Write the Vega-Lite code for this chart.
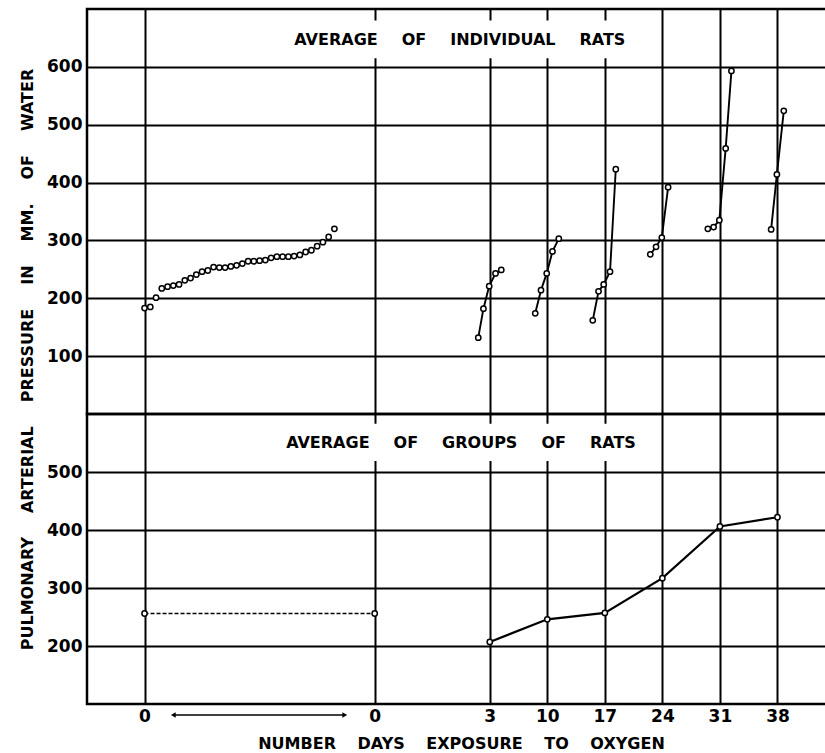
{
  "$schema": "https://vega.github.io/schema/vega-lite/v6.json",
  "background": "white",
  "padding": {"left": 18, "top": 7, "right": 0, "bottom": 0},
  "bounds": "flush",
  "spacing": 0,
  "config": {
    "font": "DejaVu Sans",
    "view": {"stroke": "black", "strokeWidth": 2.5},
    "axis": {
      "grid": true, "gridColor": "black", "gridOpacity": 1, "gridWidth": 2,
      "domain": false, "ticks": false,
      "labelFont": "DejaVu Sans", "labelFontSize": 17, "labelFontWeight": "bold", "labelColor": "black",
      "titleFont": "DejaVu Sans", "titleFontSize": 16, "titleFontWeight": "bold", "titleColor": "black"
    },
    "point": {"shape": "circle", "filled": true, "fill": "white", "stroke": "black", "strokeWidth": 1.5, "size": 28, "opacity": 1}
  },
  "datasets": {
    "baseline": [
      {"day": 0, "pos": 0.0, "p": 183}, {"day": 0, "pos": 0.1, "p": 185}, {"day": 0, "pos": 0.2, "p": 201},
      {"day": 0, "pos": 0.3, "p": 217}, {"day": 0, "pos": 0.4, "p": 220}, {"day": 0, "pos": 0.5, "p": 222},
      {"day": 0, "pos": 0.6, "p": 224}, {"day": 0, "pos": 0.7, "p": 231}, {"day": 0, "pos": 0.8, "p": 235},
      {"day": 0, "pos": 0.9, "p": 241}, {"day": 0, "pos": 1.0, "p": 246}, {"day": 0, "pos": 1.1, "p": 248},
      {"day": 0, "pos": 1.2, "p": 254}, {"day": 0, "pos": 1.3, "p": 253}, {"day": 0, "pos": 1.4, "p": 253},
      {"day": 0, "pos": 1.5, "p": 255}, {"day": 0, "pos": 1.6, "p": 257}, {"day": 0, "pos": 1.7, "p": 260},
      {"day": 0, "pos": 1.8, "p": 264}, {"day": 0, "pos": 1.9, "p": 264}, {"day": 0, "pos": 2.0, "p": 265},
      {"day": 0, "pos": 2.1, "p": 266}, {"day": 0, "pos": 2.2, "p": 270}, {"day": 0, "pos": 2.3, "p": 272},
      {"day": 0, "pos": 2.4, "p": 272}, {"day": 0, "pos": 2.5, "p": 272}, {"day": 0, "pos": 2.6, "p": 273},
      {"day": 0, "pos": 2.7, "p": 275}, {"day": 0, "pos": 2.8, "p": 280}, {"day": 0, "pos": 2.9, "p": 283},
      {"day": 0, "pos": 3.0, "p": 290}, {"day": 0, "pos": 3.1, "p": 297}, {"day": 0, "pos": 3.2, "p": 306},
      {"day": 0, "pos": 3.3, "p": 320}
    ],
    "individual": [
      {"day": 3, "pos": 5.80, "p": 132}, {"day": 3, "pos": 5.89, "p": 182}, {"day": 3, "pos": 5.99, "p": 221},
      {"day": 3, "pos": 6.10, "p": 243}, {"day": 3, "pos": 6.20, "p": 249},
      {"day": 10, "pos": 6.79, "p": 174}, {"day": 10, "pos": 6.89, "p": 214}, {"day": 10, "pos": 6.99, "p": 243},
      {"day": 10, "pos": 7.09, "p": 281}, {"day": 10, "pos": 7.20, "p": 303},
      {"day": 17, "pos": 7.79, "p": 162}, {"day": 17, "pos": 7.89, "p": 212}, {"day": 17, "pos": 7.98, "p": 224},
      {"day": 17, "pos": 8.09, "p": 246}, {"day": 17, "pos": 8.19, "p": 423},
      {"day": 24, "pos": 8.79, "p": 276}, {"day": 24, "pos": 8.89, "p": 289}, {"day": 24, "pos": 8.99, "p": 305},
      {"day": 24, "pos": 9.10, "p": 392},
      {"day": 31, "pos": 9.79, "p": 320}, {"day": 31, "pos": 9.89, "p": 323}, {"day": 31, "pos": 9.99, "p": 335},
      {"day": 31, "pos": 10.10, "p": 459}, {"day": 31, "pos": 10.20, "p": 593},
      {"day": 38, "pos": 10.89, "p": 319}, {"day": 38, "pos": 10.99, "p": 414}, {"day": 38, "pos": 11.11, "p": 524}
    ],
    "control": [
      {"day": 0, "pos": 0, "p": 256}, {"day": 0, "pos": 4, "p": 256}
    ],
    "groups": [
      {"day": 3, "pos": 6, "p": 207}, {"day": 10, "pos": 7, "p": 246}, {"day": 17, "pos": 8, "p": 257},
      {"day": 24, "pos": 9, "p": 317}, {"day": 31, "pos": 10, "p": 406}, {"day": 38, "pos": 11, "p": 422}
    ]
  },
  "vconcat": [
    {
      "width": 748,
      "height": 405,
      "layer": [
        {"data": {"values": [{}]}, "mark": {"type": "rect", "color": "white"},
         "encoding": {"x": {"datum": 2.45, "type": "quantitative", "scale": {"domain": [-1, 12], "nice": false, "zero": false}},
                      "x2": {"datum": 8.55},
                      "y": {"datum": 615, "type": "quantitative", "scale": {"domain": [0, 700], "nice": false, "zero": false}},
                      "y2": {"datum": 680}}},
        {"data": {"values": [{}]},
         "mark": {"type": "text", "text": "AVERAGE\u2003\u2002OF\u2003\u2002INDIVIDUAL\u2003\u2002RATS", "font": "DejaVu Sans", "fontWeight": "bold", "fontSize": 16, "align": "center", "baseline": "middle", "color": "black"},
         "encoding": {"x": {"datum": 5.48, "type": "quantitative"}, "y": {"datum": 646, "type": "quantitative"}}},
        {"data": {"name": "baseline"},
         "mark": {"type": "point"},
         "encoding": {
           "x": {"field": "pos", "type": "quantitative", "scale": {"domain": [-1, 12], "nice": false, "zero": false},
                 "axis": {"values": [0, 4, 6, 7, 8, 9, 10, 11], "labels": false, "title": null}},
           "y": {"field": "p", "type": "quantitative", "scale": {"domain": [0, 700], "nice": false, "zero": false},
                 "axis": {"values": [100, 200, 300, 400, 500, 600], "labelPadding": 5,
                          "title": "PULMONARY\u2003\u2002ARTERIAL\u2003\u2002PRESSURE\u2003\u2002IN\u2003\u2002MM.\u2003\u2002OF\u2003\u2002WATER",
                          "titleY": 350, "titlePadding": 11}}
         }},
        {"data": {"name": "individual"},
         "mark": {"type": "line", "color": "black", "strokeWidth": 1.9},
         "encoding": {
           "x": {"field": "pos", "type": "quantitative", "axis": {"values": [0, 4, 6, 7, 8, 9, 10, 11], "labels": false, "title": null}},
           "y": {"field": "p", "type": "quantitative", "axis": {"values": [100, 200, 300, 400, 500, 600], "labelPadding": 5,
                          "title": "PULMONARY\u2003\u2002ARTERIAL\u2003\u2002PRESSURE\u2003\u2002IN\u2003\u2002MM.\u2003\u2002OF\u2003\u2002WATER",
                          "titleY": 350, "titlePadding": 11}},
           "detail": {"field": "day"}
         }},
        {"data": {"name": "individual"},
         "mark": {"type": "point"},
         "encoding": {
           "x": {"field": "pos", "type": "quantitative", "axis": {"values": [0, 4, 6, 7, 8, 9, 10, 11], "labels": false, "title": null}},
           "y": {"field": "p", "type": "quantitative", "axis": {"values": [100, 200, 300, 400, 500, 600], "labelPadding": 5,
                          "title": "PULMONARY\u2003\u2002ARTERIAL\u2003\u2002PRESSURE\u2003\u2002IN\u2003\u2002MM.\u2003\u2002OF\u2003\u2002WATER",
                          "titleY": 350, "titlePadding": 11}}
         }}
      ]
    },
    {
      "width": 748,
      "height": 290,
      "layer": [
        {"data": {"values": [{}]}, "mark": {"type": "rect", "color": "white"},
         "encoding": {"x": {"datum": 2.45, "type": "quantitative", "scale": {"domain": [-1, 12], "nice": false, "zero": false}},
                      "x2": {"datum": 8.6},
                      "y": {"datum": 519, "type": "quantitative", "scale": {"domain": [100, 600], "nice": false, "zero": false}},
                      "y2": {"datum": 583}}},
        {"data": {"values": [{}]},
         "mark": {"type": "text", "text": "AVERAGE\u2003\u2002OF\u2003\u2002GROUPS\u2003\u2002OF\u2003\u2002RATS", "font": "DejaVu Sans", "fontWeight": "bold", "fontSize": 16, "align": "center", "baseline": "middle", "color": "black"},
         "encoding": {"x": {"datum": 5.5, "type": "quantitative"}, "y": {"datum": 550, "type": "quantitative"}}},
        {"data": {"name": "control"},
         "mark": {"type": "line", "color": "black", "strokeWidth": 1.4, "strokeDash": [4, 2]},
         "encoding": {
           "x": {"field": "pos", "type": "quantitative", "scale": {"domain": [-1, 12], "nice": false, "zero": false},
                 "axis": {"values": [0, 4, 6, 7, 8, 9, 10, 11], "labelPadding": 4,
                          "labelExpr": "datum.value <= 4 ? '0' : '' + ((datum.value - 6) * 7 + 3)",
                          "title": "NUMBER\u2003 DAYS\u2003 EXPOSURE\u2003 TO\u2003 OXYGEN", "titlePadding": 11}},
           "y": {"field": "p", "type": "quantitative", "scale": {"domain": [100, 600], "nice": false, "zero": false},
                 "axis": {"values": [200, 300, 400, 500], "labelPadding": 5, "title": null}}
         }},
        {"data": {"name": "control"},
         "mark": {"type": "point"},
         "encoding": {
           "x": {"field": "pos", "type": "quantitative", "axis": {"values": [0, 4, 6, 7, 8, 9, 10, 11], "labelPadding": 4,
                          "labelExpr": "datum.value <= 4 ? '0' : '' + ((datum.value - 6) * 7 + 3)",
                          "title": "NUMBER\u2003 DAYS\u2003 EXPOSURE\u2003 TO\u2003 OXYGEN", "titlePadding": 11}},
           "y": {"field": "p", "type": "quantitative", "axis": {"values": [200, 300, 400, 500], "labelPadding": 5, "title": null}}
         }},
        {"data": {"name": "groups"},
         "mark": {"type": "line", "color": "black", "strokeWidth": 2.2},
         "encoding": {
           "x": {"field": "pos", "type": "quantitative", "axis": {"values": [0, 4, 6, 7, 8, 9, 10, 11], "labelPadding": 4,
                          "labelExpr": "datum.value <= 4 ? '0' : '' + ((datum.value - 6) * 7 + 3)",
                          "title": "NUMBER\u2003 DAYS\u2003 EXPOSURE\u2003 TO\u2003 OXYGEN", "titlePadding": 11}},
           "y": {"field": "p", "type": "quantitative", "axis": {"values": [200, 300, 400, 500], "labelPadding": 5, "title": null}}
         }},
        {"data": {"name": "groups"},
         "mark": {"type": "point"},
         "encoding": {
           "x": {"field": "pos", "type": "quantitative", "axis": {"values": [0, 4, 6, 7, 8, 9, 10, 11], "labelPadding": 4,
                          "labelExpr": "datum.value <= 4 ? '0' : '' + ((datum.value - 6) * 7 + 3)",
                          "title": "NUMBER\u2003 DAYS\u2003 EXPOSURE\u2003 TO\u2003 OXYGEN", "titlePadding": 11}},
           "y": {"field": "p", "type": "quantitative", "axis": {"values": [200, 300, 400, 500], "labelPadding": 5, "title": null}}
         }},
        {"data": {"values": [{}]}, "mark": {"type": "rule", "color": "black", "strokeWidth": 1.5},
         "encoding": {"x": {"datum": 0.52, "type": "quantitative"}, "x2": {"datum": 3.46}, "y": {"datum": 81, "type": "quantitative"}}},
        {"data": {"values": [{}]}, "mark": {"type": "point", "shape": "triangle-left", "filled": true, "fill": "black", "stroke": "black", "strokeWidth": 0, "size": 30},
         "encoding": {"x": {"datum": 0.5, "type": "quantitative"}, "y": {"datum": 81, "type": "quantitative"}}},
        {"data": {"values": [{}]}, "mark": {"type": "point", "shape": "triangle-right", "filled": true, "fill": "black", "stroke": "black", "strokeWidth": 0, "size": 30},
         "encoding": {"x": {"datum": 3.48, "type": "quantitative"}, "y": {"datum": 81, "type": "quantitative"}}}
      ]
    }
  ]
}
